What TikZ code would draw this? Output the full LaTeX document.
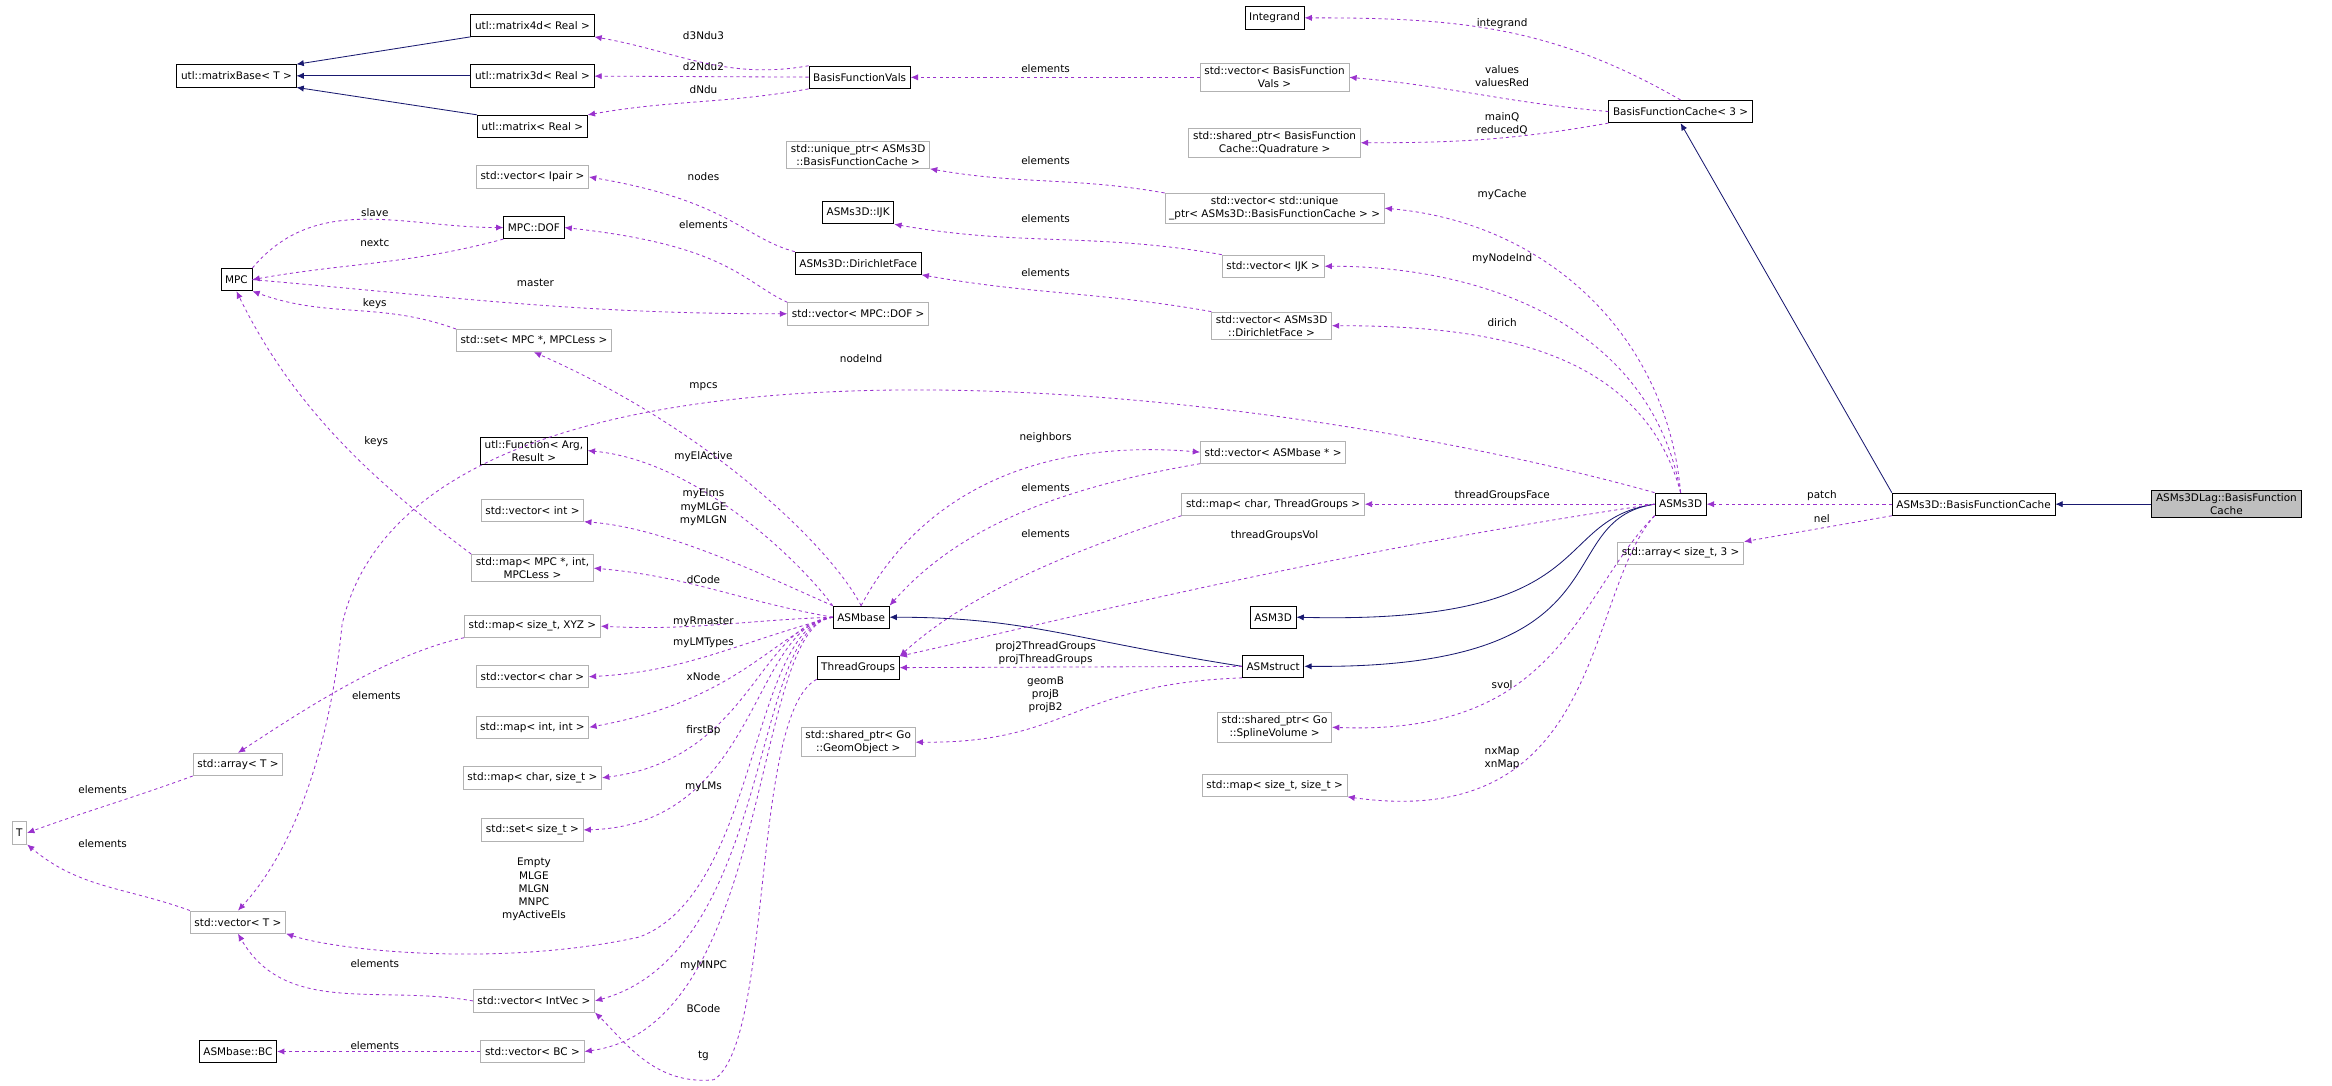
\documentclass[tikz,border=0pt]{standalone}
\usepackage{fontspec}
\setmainfont{DejaVu Sans}
\usetikzlibrary{arrows.meta}
\definecolor{edgepurple}{HTML}{9A32CD}
\definecolor{edgenavy}{HTML}{191970}
\tikzstyle{doc} = [rectangle, draw=black, thick, font=\fontsize{10}{12.5}\selectfont,
align=center, minimum height=0.75cm, inner xsep=4pt, inner ysep=3pt]
\tikzstyle{undoc} = [doc, draw=black!30]
\tikzstyle{self} = [doc, fill=black!25]
\tikzstyle{inherit} = [draw=edgenavy, thick, -{Latex[length=7pt,width=6pt]}]
\tikzstyle{member} = [draw=edgepurple, thick, dashed, -{Latex[length=7pt,width=6pt]}]
\tikzstyle{lbl} = [font=\fontsize{10}{12.5}\selectfont, align=center, inner sep=1pt, text=black, solid]

\begin{document}
\begin{tikzpicture}[x=0.05cm, y=-0.05cm]
\useasboundingbox (0,0) rectangle (1568,730);
%Calling the blocks
\node (lagbfc) [self] at (1497,339) {ASMs3DLag::BasisFunction\\Cache};
\node (s3dbfc) [doc] at (1327,339) {ASMs3D::BasisFunctionCache};
\node (asms3d) [doc] at (1130,339) {ASMs3D};
\node (bfc3) [doc] at (1130,75) {BasisFunctionCache< 3 >};
\node (integrand) [doc] at (857,12) {Integrand};
\node (vecbfv) [undoc] at (857,52) {std::vector< BasisFunction\\Vals >};
\node (bfv) [doc] at (578,52) {BasisFunctionVals};
\node (m4d) [doc] at (358,17) {utl::matrix4d< Real >};
\node (m3d) [doc] at (358,51) {utl::matrix3d< Real >};
\node (matrix) [doc] at (358,85) {utl::matrix< Real >};
\node (mbase) [doc] at (159,51) {utl::matrixBase< T >};
\node (quad) [undoc] at (857,96) {std::shared\_ptr< BasisFunction\\Cache::Quadrature >};
\node (uniqptr) [undoc] at (577,104) {std::unique\_ptr< ASMs3D\\::BasisFunctionCache >};
\node (vecuniq) [undoc] at (857,140) {std::vector< std::unique\\\_ptr< ASMs3D::BasisFunctionCache > >};
\node (ijk) [doc] at (577,143) {ASMs3D::IJK};
\node (vecijk) [undoc] at (856,179) {std::vector< IJK >};
\node (df) [doc] at (577,177) {ASMs3D::DirichletFace};
\node (vecdf) [undoc] at (855,219) {std::vector< ASMs3D\\::DirichletFace >};
\node (vecipair) [undoc] at (358,119) {std::vector< Ipair >};
\node (dof) [doc] at (359,153) {MPC::DOF};
\node (mpc) [doc] at (159,188) {MPC};
\node (vecdof) [undoc] at (577,211) {std::vector< MPC::DOF >};
\node (setmpc) [undoc] at (359,229) {std::set< MPC *, MPCLess >};
\node (func) [doc] at (359,303) {utl::Function< Arg,\\Result >};
\node (vecint) [undoc] at (358,343) {std::vector< int >};
\node (mapmpc) [undoc] at (358,382) {std::map< MPC *, int,\\MPCLess >};
\node (mapxyz) [undoc] at (358,421) {std::map< size\_t, XYZ >};
\node (vecchar) [undoc] at (358,455) {std::vector< char >};
\node (mapii) [undoc] at (358,489) {std::map< int, int >};
\node (mapcs) [undoc] at (358,523) {std::map< char, size\_t >};
\node (setst) [undoc] at (358,558) {std::set< size\_t >};
\node (arrT) [undoc] at (160,514) {std::array< T >};
\node (T) [undoc] at (13,560) {T};
\node (vecT) [undoc] at (160,620) {std::vector< T >};
\node (vecintvec) [undoc] at (359,673) {std::vector< IntVec >};
\node (vecbc) [undoc] at (358,707) {std::vector< BC >};
\node (bc) [doc] at (160,707) {ASMbase::BC};
\node (asmbase) [doc] at (579,415) {ASMbase};
\node (thr) [doc] at (577,449) {ThreadGroups};
\node (geom) [undoc] at (577,499) {std::shared\_ptr< Go\\::GeomObject >};
\node (vecab) [undoc] at (856,304) {std::vector< ASMbase * >};
\node (mapct) [undoc] at (856,339) {std::map< char, ThreadGroups >};
\node (asm3d) [doc] at (856,415) {ASM3D};
\node (asmstruct) [doc] at (856,448) {ASMstruct};
\node (svol) [undoc] at (857,489) {std::shared\_ptr< Go\\::SplineVolume >};
\node (mapss) [undoc] at (857,528) {std::map< size\_t, size\_t >};
\node (arrs3) [undoc] at (1130,372) {std::array< size\_t, 3 >};
% Drawing the inheritance arrows
\draw[inherit] (lagbfc) -- (s3dbfc);
\draw[inherit] (s3dbfc.north west) -- (bfc3.south);
\draw[inherit] (m4d.south west) -- (mbase.north east);
\draw[inherit] (m3d) -- (mbase);
\draw[inherit] (matrix.north west) -- (mbase.south east);
\draw[inherit] (asmstruct.west) .. controls (720,430) and (690,415) .. (asmbase.east);
\draw[inherit] (asms3d.west) .. controls (1040,350) and (1080,420) .. (asm3d.east);
\draw[inherit] (asms3d.west) .. controls (1040,350) and (1100,450) .. (asmstruct.east);
% Drawing the member arrows
\draw[member] (bfc3.north) to[out=150,in=0] (integrand.east) node[lbl,at={(1010,16)}] {integrand};
\draw[member] (bfc3.west) to[out=175,in=-5] (vecbfv.east) node[lbl,at={(1010,51)}] {values\\valuesRed};
\draw[member] (bfc3.south west) to[out=190,in=0] (quad.east) node[lbl,at={(1010,83)}] {mainQ\\reducedQ};
\draw[member] (vecbfv) -- (bfv) node[lbl,at={(703,46)}] {elements};
\draw[member] (bfv.north west) to[out=190,in=-10] (m4d.south east) node[lbl,at={(473,24)}] {d3Ndu3};
\draw[member] (bfv) -- (m3d) node[lbl,at={(473,45)}] {d2Ndu2};
\draw[member] (bfv.south west) to[out=190,in=10] (matrix.north east) node[lbl,at={(473,60)}] {dNdu};
\draw[member] (vecuniq.north west) to[out=170,in=-10] (uniqptr.south east) node[lbl,at={(703,108)}] {elements};
\draw[member] (asms3d.north) to[out=95,in=-5] (vecuniq.east) node[lbl,at={(1010,131)}] {myCache};
\draw[member] (vecijk.north west) to[out=170,in=-10] (ijk.south east) node[lbl,at={(703,147)}] {elements};
\draw[member] (asms3d.north) to[out=100,in=0] (vecijk.east) node[lbl,at={(1010,174)}] {myNodeInd};
\draw[member] (vecdf.north west) to[out=170,in=-10] (df.south east) node[lbl,at={(703,183)}] {elements};
\draw[member] (asms3d.north) to[out=105,in=0] (vecdf.east) node[lbl,at={(1010,217)}] {dirich};
\draw[member] (df.north west) .. controls (500,160) and (490,135) .. (vecipair.east) node[lbl,at={(473,119)}] {nodes};
\draw[member] (vecdof.north west) .. controls (500,190) and (490,165) .. (dof.east) node[lbl,at={(473,151)}] {elements};
\draw[member] (mpc.north east) to[out=50,in=180] (dof.west) node[lbl,at={(252,143)}] {slave};
\draw[member] (dof.south west) to[out=195,in=10] (mpc.east) node[lbl,at={(252,163)}] {nextc};
\draw[member] (mpc.east) to[out=-5,in=180] (vecdof.west) node[lbl,at={(360,190)}] {master};
\draw[member] (setmpc.north west) to[out=160,in=-20] (mpc.south east) node[lbl,at={(252,204)}] {keys};
\draw[member] (mapmpc.north west) .. controls (260,330) and (200,280) .. (mpc.south) node[lbl,at={(253,297)}] {keys};
\draw[member] (asmbase.north) .. controls (560,370) and (480,290) .. (setmpc.south) node[lbl,at={(473,260)}] {mpcs};
\draw[member] (asms3d.north west) .. controls (820,250) and (280,200) .. (230,420) .. controls (220,520) and (190,580) .. (vecT.north) node[lbl,at={(579,241)}] {nodeInd};
\draw[member] (asmbase.north west) .. controls (540,380) and (470,310) .. (func.east) node[lbl,at={(473,307)}] {myElActive};
\draw[member] (asmbase.north west) .. controls (520,390) and (450,355) .. (vecint.south east) node[lbl,at={(473,341)}] {myElms\\myMLGE\\myMLGN};
\draw[member] (asmbase.west) to[out=170,in=-5] (mapmpc.east) node[lbl,at={(473,390)}] {dCode};
\draw[member] (asmbase.west) to[out=182,in=-3] (mapxyz.east) node[lbl,at={(473,418)}] {myRmaster};
\draw[member] (asmbase.west) to[out=195,in=3] (vecchar.east) node[lbl,at={(473,432)}] {myLMTypes};
\draw[member] (asmbase.west) .. controls (520,425) and (500,470) .. (mapii.east) node[lbl,at={(473,455)}] {xNode};
\draw[member] (asmbase.west) .. controls (510,420) and (505,510) .. (mapcs.east) node[lbl,at={(473,491)}] {firstBp};
\draw[member] (asmbase.west) .. controls (505,420) and (510,555) .. (setst.east) node[lbl,at={(473,529)}] {myLMs};
\draw[member] (asmbase.west) .. controls (505,420) and (510,600) .. (430,630) .. controls (340,650) and (230,640) .. (vecT.south east) node[lbl,at={(359,598)}] {Empty\\MLGE\\MLGN\\MNPC\\myActiveEls};
\draw[member] (asmbase.west) .. controls (505,420) and (520,640) .. (vecintvec.east) node[lbl,at={(473,649)}] {myMNPC};
\draw[member] (asmbase.west) .. controls (505,420) and (520,690) .. (vecbc.east) node[lbl,at={(473,678)}] {BCode};
\draw[member] (thr.south west) .. controls (505,480) and (520,700) .. (480,726) .. controls (440,730) and (420,700) .. (vecintvec.south east) node[lbl,at={(473,710)}] {tg};
\draw[member] (mapxyz.south west) .. controls (260,440) and (200,480) .. (arrT.north) node[lbl,at={(253,468)}] {elements};
\draw[member] (arrT.south west) to[out=200,in=20] (T.east) node[lbl,at={(69,531)}] {elements};
\draw[member] (vecT.north west) to[out=160,in=-40] (T.south east) node[lbl,at={(69,567)}] {elements};
\draw[member] (vecintvec.west) to[out=170,in=-60] (vecT.south) node[lbl,at={(252,648)}] {elements};
\draw[member] (vecbc) -- (bc) node[lbl,at={(252,703)}] {elements};
\draw[member] (asmbase.north) .. controls (620,330) and (700,295) .. (vecab.west) node[lbl,at={(703,294)}] {neighbors};
\draw[member] (vecab.south west) .. controls (700,330) and (640,360) .. (asmbase.north east) node[lbl,at={(703,328)}] {elements};
\draw[member] (mapct.south west) .. controls (720,370) and (650,400) .. (thr.north east) node[lbl,at={(703,359)}] {elements};
\draw[member] (asms3d) -- (mapct) node[lbl,at={(1010,333)}] {threadGroupsFace};
\draw[member] (asms3d.west) .. controls (900,370) and (700,420) .. (thr.north east) node[lbl,at={(857,360)}] {threadGroupsVol};
\draw[member] (asmstruct) -- (thr) node[lbl,at={(703,439)}] {proj2ThreadGroups\\projThreadGroups};
\draw[member] (asmstruct.south west) .. controls (720,460) and (720,500) .. (geom.east) node[lbl,at={(703,467)}] {geomB\\projB\\projB2};
\draw[member] (asms3d.south west) .. controls (1060,400) and (1050,495) .. (svol.east) node[lbl,at={(1010,460)}] {svol};
\draw[member] (asms3d.south west) .. controls (1065,400) and (1080,560) .. (mapss.south east) node[lbl,at={(1010,510)}] {nxMap\\xnMap};
\draw[member] (s3dbfc) -- (asms3d) node[lbl,at={(1225,333)}] {patch};
\draw[member] (s3dbfc.south west) to[out=190,in=10] (arrs3.north east) node[lbl,at={(1225,349)}] {nel};
\end{tikzpicture}
\end{document}
